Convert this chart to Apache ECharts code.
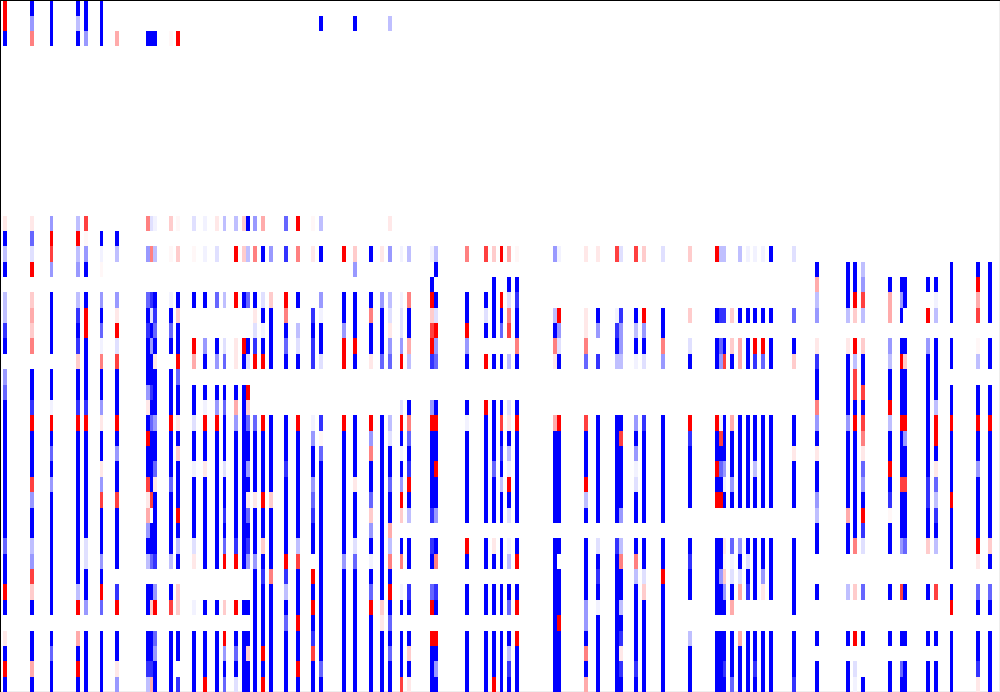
<!DOCTYPE html>
<html>
<head>
<meta charset="utf-8">
<title>heatmap</title>
<style>
html, body { margin: 0; padding: 0; background: #fff; }
#chart { width: 1000px; height: 692px; }
</style>
<script src="https://cdn.jsdelivr.net/npm/echarts@6/dist/echarts.min.js"></script>
</head>
<body>
<div id="chart"></div>
<script>
var columnCount = 259;
var rowCount = 45;

// colour levels, blue is negative and red is positive, '.' has no cell
var levels = {
    B: -1, a: -0.8, b: -0.6, c: -0.4, d: -0.25, e: -0.12, f: -0.05,
    R: 1, p: 0.75, q: 0.5, r: 0.33, s: 0.2, t: 0.09, u: 0.03
};

// rows 0-2, only these columns have something up there
var upperColumns = [0, 7, 12, 19, 21, 25, 29, 37, 38, 39, 43, 45, 82, 91, 100];
var upperCells = ['RRB', 'Bcq', 'BBB', 'BdB', 'BBc', 'BBB', '..r', '..B', '..B', '..B', '..u', '..R', '.B.', '.B.', '.d.'];

// rows 14-44, grouped by five
var lowerColumns = [
    0, 7, 12, 19, 21, 25, 29, 37, 38, 39, 43, 45, 49, 52, 55, 57, 60, 62, 63, 65, 67, 69, 73, 76, 80, 82,
    88, 91, 95, 98, 100, 103, 105, 111, 112, 120, 125, 127, 129, 131, 133, 143, 144, 151, 154, 159, 160, 164, 166, 171,
    178, 185, 186, 187, 189, 191, 193, 195, 197, 199, 205, 211, 219, 221, 223, 230, 233, 234, 240, 242, 246, 253, 256
];
var lowerCells = [
    'tBdB. ddaB. cbBBB BBBBB BbBBR B.tBR B',
    'tbeR. srsq. BBaRB BBpcB Bdcps B.BBr B',
    'cRpc. BBBB. BBfRB bBcBB BBBBB B.BbB B',
    'dRdc. daBas BBaRB BBBBB BBBBd R.rBR B',
    'pucB. BRRBB BBaRB BBBBB BeeBB c.BBB B',
    '.Bfu. cBbfq BBctB BtcpB BBcBR b.BBB B',
    '.Bd.. ctRep BBBRB cBBpB BBB.a R.BBt c',
    'q.c.. bBaBB BctBR BBptr cBd.B B.BBa d',
    'e.q.. aeBcB BaBbB BBBp. BBb.B s.BBa r',
    'f.d.. BabBt BBBcB BbtBB BBa.c R.bcB B',
    's.u.. fBbB. BBBRB BBbBB BBd.B p.BBB B',
    'u.s.. BsBBR bBBtB sBBBR BdB.s s.BB. a',
    'e.u.. B..Rr .BBeB BfBBB Bet.. f.BBB B',
    'f.f.. B..cB .BfRB BtBBB BBB.. B.BBB R',
    't.e.. b..Bc .BcRB BBBBB BBB.. B.BBB B',
    'd.... d..eb .BbBB BeBBa BbR.. s.RcB b',
    'd.R.. R..tt .BrcB BBBBB BaR.. R.BbB e',
    's.s.. B..RB .BBBB BBBBB BBB.. B.BBB B',
    'B.d.. b..Be .RsbB BcBtb Bac.. B.BsB B',
    'c.q.. BteaR ...bB BBBtB BBcBB BBBBB B',
    'r.B.. eBfBR ...RB BBBRB BsBaB BBBRB R',
    '..c.. sBBBB ...BB BBBsB BBBqB BBBBB B',
    'b.a.. RqBbB ...BB BaBBB BBRad BbBBB B',
    'R.q.. B.deB ...RB BBBBB BdpBB BRBBR B',
    'u.t.. .aBaa ...fc BBcba BB.RB RBapB B',
    'd.B.. cfBBe ...au bBBBB BBBBB BBBBb B',
    '..R.. BBcRR ...RB BBBBB BBcBB BBBBB B',
    '..sc. BBBRB ...BB BBtBB BebBB BBBBB B',
    '..B.. BqBBt ...Rc qBBbs cBfBb RBBBB B',
    '..t.. cBBBb ...BB BBBBB BBBBB stBBB B',
    't.c.. detcb ...de BBbBB rdqBR BbBbB B',
    '..f.. feecR ..eRB fBcRs .Bq.f B.BBB p',
    '..d.. qBBrd ..Bqb BaRBd .BB.a B.BsB t',
    '..f.B RspRa ..cRB BBBBa .aB.b R.RBB B',
    '..dB. BeRcb ..BRB BRBBc .Bq.a B.RBc B',
    '..q.. BBRcB ..BfB BBBBB .RB.B B.BBB B',
    '..p.. BeB.R ..RBB BBBBB .BB.B B.BBB B',
    '..s.B BBB.B ..BBB BbBBB .tB.B B.BBB R',
    '..R.. RBb.B ..BpB aBdBB .BB.B B.BBB B',
    '..r.B eqp.d ..etB dfRBe .fd.B b.Bda B',
    '..u.B aBBqB ..BRB BBBBB .BR.B R.RBB B',
    '..c.. .dBqt ...rB BBBBB .BBBB BBBBB B',
    '..f.. .RceB ...RB BBBBB .B.BB BRBBB B',
    '..t.. .ttqb ...pB BBRdB .BBBB ccBqB r',
    '..t.. .Bc.a ...BB BBBBB .eBaB fBBBB B',
    '..p.. .faBd ...BB BBBBB .aBBB BBBBB B',
    '..e.. .accd ...Bp BBBBc .dqBB dBata B',
    '..p.. .BdBf ...cB cfeBB .BqdB BBBBa B',
    '..s.. .RcBe ...aB BBBBB .BBes BBBBB B',
    '..e.. .BBqc ...BB BBBBB .BBRB BBBBB B',
    '..s.. .s.eB ...Ra BBBB. .BaBB ..dBB B',
    '..R.. .B.BB ...RB BRBR. .BBBB B.BBB B',
    '..d.. .a.bc ...fp BbBR. .BBcB B.BBB B',
    '..d.. .a.Bp ...BB BcfB. .tusc B.BBa B',
    '..... .s.sB ...rB BBcB. .bfeB r.BBB b',
    '..d.. .B.rr ...BB BBBB. .cBer ..rBB B',
    '..f.. .B.BB ...BB BBBB. .BeBa ..BBB B',
    '..f.. .B.Ra ...BB BdBB. .BBBB ..BBa B',
    '..f.. .B.Rb ...BB BBBB. .BBct ..BBB B',
    '..B.. .B.BB ...BB BBBB. .BBBB ..BBB B',
    '..e.. .b.Bs ...BB tBBB. .BBBB B.BBB a',
    '...Br dc.ta BBqcB tBBcd BB..B ..B.B B',
    '...BB Bd.tB BBBcB BBBBr BB..d ..B.B B',
    '...BB Rs.Rd ppBRB BBBBB Bq..s ..R.e f',
    '...dc pd.sB BpBpq tbcBR ae..b ..B.. B',
    '....B rr.cd BBRdB BRBau BB..B ..B.B B',
    '....B cB.BR BBBRB BBpBB Bc..p ..B.b B',
    '....B B..Bs BBBRc BBpBB Bb..B ..B.B B',
    '....B .R.cB BBBBB BBaaB Bs..B ..B.B B',
    '....B fd.BB BBdRR Btbda Bd..p ..B.B B',
    '...BB BB.BB .BBRB BBBRB BBB.B R.BBB B',
    '...BR rp.ud .BBRB BcBBB BRt.b B.BBa t',
    '...BB BB.BB .BBRB BBBBB BsB.b B.BBB B'
];

function addCells(list, columns, cells, firstRow) {
    columns.forEach(function (col, i) {
        var text = cells[i].replace(/ /g, '');
        for (var j = 0; j < text.length; j++) {
            if (text[j] !== '.') {
                list.push([col, firstRow + j, levels[text[j]]]);
            }
        }
    });
}

var cellData = [];
addCells(cellData, upperColumns, upperCells, 0);
addCells(cellData, lowerColumns, lowerCells, 14);

var xNames = [];
for (var i = 0; i < columnCount; i++) { xNames.push(String(i)); }
var yNames = [];
for (var j = 0; j < rowCount; j++) { yNames.push(String(j)); }

// edges are rounded so the cells stay crisp, 3 or 4 pixels wide like the original
function drawCell(params, api) {
    var center = api.coord([api.value(0), api.value(1)]);
    var size = api.size([1, 1]);
    var x0 = Math.round(center[0] - size[0] / 2);
    var x1 = Math.round(center[0] + size[0] / 2);
    var y0 = Math.round(center[1] - size[1] / 2);
    var y1 = Math.round(center[1] + size[1] / 2);
    return {
        type: 'rect',
        shape: { x: x0, y: y0, width: x1 - x0, height: y1 - y0 },
        style: { fill: api.visual('color') }
    };
}

var chart = echarts.init(document.getElementById('chart'), null, { renderer: 'canvas' });
chart.setOption({
    animation: false,
    backgroundColor: '#fff',
    grid: { left: 3.396, top: 0.31, width: 996.114, height: 692.01 },
    xAxis: { type: 'category', data: xNames, show: false },
    yAxis: { type: 'category', data: yNames, inverse: true, show: false },
    visualMap: {
        show: false,
        dimension: 2,
        min: -1,
        max: 1,
        inRange: { color: ['#0000ff', '#ffffff', '#ff0000'] }
    },
    series: [{
        type: 'custom',
        z: 5,
        renderItem: drawCell,
        encode: { x: 0, y: 1 },
        data: cellData
    }],
    graphic: [
        { type: 'rect', shape: { x: 0, y: 0, width: 1000, height: 1 }, style: { fill: '#000' }, z: 10 },
        { type: 'rect', shape: { x: 0, y: 0, width: 1, height: 692 }, style: { fill: '#000' }, z: 10 },
        { type: 'rect', shape: { x: 999, y: 1, width: 1, height: 691 }, style: { fill: '#eeeeee' }, z: 1 },
        { type: 'rect', shape: { x: 1, y: 691, width: 999, height: 1 }, style: { fill: '#eeeeee' }, z: 1 }
    ]
});
</script>
</body>
</html>
